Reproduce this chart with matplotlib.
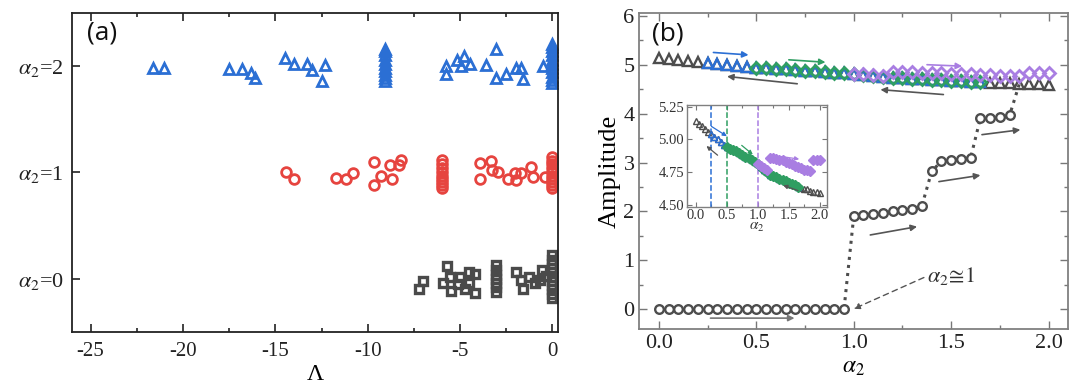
import matplotlib
matplotlib.use('Agg')
import matplotlib.pyplot as plt
from matplotlib.ticker import MultipleLocator

plt.rcParams['font.family'] = ['Liberation Serif', 'DejaVu Serif']
plt.rcParams['mathtext.fontset'] = 'stix'
plt.rcParams['axes.unicode_minus'] = False

# ---------------- Panel (a) data ----------------
tri_lam = [-21.6, -21.0, -17.5, -16.8, -16.3, -16.1, -14.5, -14.0, -13.3, -13.0, -12.5, -12.3,
           -9.04, -9.04, -9.04, -9.04, -9.04, -9.04, -9.04, -9.04, -9.04, -9.04,
           -5.78, -5.78, -5.17, -4.93, -4.81, -4.44, -3.58, -3.04, -3.04, -2.50, -1.96, -1.69, -1.60, -0.52,
           0.0, 0.0, 0.0, 0.0, 0.0, 0.0, 0.0, 0.0, 0.0, 0.0, 0.0]
tri_y = [1.984, 1.984, 1.972, 1.972, 1.937, 1.885, 2.072, 2.016, 2.016, 1.962, 1.859, 2.009,
         1.86, 1.89, 1.92, 1.95, 1.98, 2.02, 2.06, 2.10, 2.14, 2.16,
         2.0, 1.928, 2.054, 2.0, 2.094, 2.022, 2.007, 2.157, 1.885, 1.922, 1.984, 1.984, 1.875, 2.0,
         1.84, 1.87, 1.90, 1.94, 1.98, 2.02, 2.06, 2.10, 2.14, 2.18, 2.21]

circ_lam = [-14.4, -14.0, -11.7, -11.2, -10.8, -9.67, -9.3, -9.67, -8.8, -8.7, -8.3, -8.2,
            -6.0, -6.0, -6.0, -6.0, -6.0, -6.0, -6.0, -6.0, -6.0,
            -3.94, -3.94, -3.31, -3.26, -2.95, -2.41, -2.05, -1.96, -1.69, -1.15, -1.06, -0.43,
            0.0, 0.0, 0.0, 0.0, 0.0, 0.0, 0.0, 0.0, 0.0, 0.0]
circ_y = [1.0, 0.937, 0.944, 0.934, 0.991, 1.10, 0.968, 0.881, 1.075, 0.937, 1.069, 1.122,
          0.85, 0.88, 0.91, 0.94, 0.97, 1.0, 1.04, 1.08, 1.115,
          1.085, 0.934, 1.109, 1.028, 1.006, 0.934, 0.991, 0.928, 0.991, 1.053, 0.959, 0.959,
          0.85, 0.88, 0.91, 0.94, 0.97, 1.0, 1.04, 1.08, 1.11, 1.145]

sq_lam = [-7.2, -7.0, -5.7, -5.9, -5.56, -5.5, -5.1, -5.0, -4.75, -4.5, -4.2, -4.5, -4.2,
          -3.04, -3.04, -3.04, -3.04, -3.04, -3.04, -3.04,
          -1.96, -1.7, -1.57, -1.28, -0.97, -0.7, -0.56, -0.34,
          0.0, 0.0, 0.0, 0.0, 0.0, 0.0, 0.0, 0.0, 0.0, 0.0, 0.0]
sq_y = [-0.097, -0.022, 0.122, -0.04, 0.016, -0.119, -0.047, 0.016, -0.097, 0.069, 0.047, -0.035, -0.134,
        -0.12, -0.08, -0.04, 0.0, 0.04, 0.08, 0.13,
        0.069, -0.009, -0.097, 0.022, -0.04, -0.009, 0.085, 0.028,
        -0.18, -0.14, -0.10, -0.06, -0.02, 0.02, 0.06, 0.10, 0.14, 0.18, 0.225]

a_yticks = [0, 1, 2]
a_yticklabels = [r'$\alpha_2$=0', r'$\alpha_2$=1', r'$\alpha_2$=2']

# ---------------- Panel (b) data ----------------
black_alpha = [0.00, 0.05, 0.10, 0.15, 0.20, 0.25, 0.30, 0.35, 0.40, 0.45, 0.50, 0.55, 0.60, 0.65,
               0.70, 0.75, 0.80, 0.85, 0.90, 0.95, 1.00, 1.05, 1.10, 1.15, 1.20, 1.25, 1.30, 1.35,
               1.40, 1.45, 1.50, 1.55, 1.60, 1.65, 1.70, 1.75, 1.80, 1.85, 1.90, 1.95, 2.00]
black_amp = [5.14, 5.12, 5.10, 5.08, 5.06, 5.04, 5.02, 5.00, 4.98, 4.96, 4.94, 4.93, 4.92, 4.91,
             4.90, 4.88, 4.87, 4.86, 4.84, 4.83, 4.81, 4.79, 4.77, 4.75, 4.73, 4.72, 4.71, 4.70,
             4.69, 4.68, 4.67, 4.66, 4.65, 4.64, 4.63, 4.62, 4.62, 4.61, 4.60, 4.60, 4.59]

blue_alpha = [0.25, 0.30, 0.35, 0.40, 0.45, 0.50, 0.55, 0.60, 0.65, 0.70, 0.75, 0.80, 0.85, 0.90,
              0.95, 1.00, 1.05, 1.10, 1.15, 1.20, 1.25, 1.30, 1.35, 1.40, 1.45, 1.50, 1.55, 1.60, 1.65]
blue_amp = [5.04, 5.02, 5.00, 4.98, 4.96, 4.94, 4.93, 4.92, 4.91, 4.90, 4.88, 4.87, 4.86, 4.84,
            4.83, 4.81, 4.79, 4.77, 4.75, 4.73, 4.72, 4.71, 4.70, 4.69, 4.68, 4.67, 4.66, 4.65, 4.64]

green_alpha = [0.50, 0.55, 0.60, 0.65, 0.70, 0.75, 0.80, 0.85, 0.90, 0.95, 1.00, 1.05, 1.10, 1.15,
               1.20, 1.25, 1.30, 1.35, 1.40, 1.45, 1.50, 1.55, 1.60, 1.65]
green_amp = [4.94, 4.93, 4.92, 4.91, 4.90, 4.88, 4.87, 4.86, 4.84, 4.83, 4.81, 4.79, 4.77, 4.75,
             4.73, 4.72, 4.71, 4.70, 4.69, 4.68, 4.67, 4.66, 4.65, 4.64]

purple_alpha = [1.00, 1.05, 1.10, 1.15, 1.20, 1.25, 1.30, 1.35, 1.40, 1.45, 1.50, 1.55, 1.60, 1.65,
                1.70, 1.75, 1.80, 1.85, 1.90, 1.95, 2.00]
purple_amp = [4.81, 4.80, 4.78, 4.77, 4.86, 4.86, 4.85, 4.84, 4.84, 4.83, 4.82, 4.81, 4.80, 4.79,
              4.78, 4.77, 4.77, 4.76, 4.84, 4.84, 4.84]

zero_alpha = [0.00, 0.05, 0.10, 0.15, 0.20, 0.25, 0.30, 0.35, 0.40, 0.45, 0.50, 0.55, 0.60, 0.65,
              0.70, 0.75, 0.80, 0.85, 0.90, 0.95, 1.00, 1.05, 1.10, 1.15, 1.20, 1.25, 1.30, 1.35,
              1.40, 1.45, 1.50, 1.55, 1.60, 1.65, 1.70, 1.75, 1.80]
zero_amp = [0, 0, 0, 0, 0, 0, 0, 0, 0, 0, 0, 0, 0, 0, 0, 0, 0, 0, 0, 0,
            1.90, 1.93, 1.95, 1.97, 2.00, 2.02, 2.05, 2.12,
            2.82, 3.03, 3.05, 3.07, 3.10,
            3.91, 3.92, 3.94, 3.97]

c_blue = '#2b6fd4'
c_red = '#e6443f'
c_gray = '#4a4a4a'
c_green = '#2f9e62'
c_purple = '#a97ee2'
c_dark = '#4d4d4d'

fig = plt.figure(figsize=(10.8, 3.92), dpi=100)

# ================= Panel (a) =================
axa = fig.add_axes([0.0667, 0.153, 0.45, 0.814])
axa.plot(tri_lam, tri_y, ls='none', marker='^', ms=7.5, mfc='none', mec=c_blue, mew=2.0)
axa.plot(circ_lam, circ_y, ls='none', marker='o', ms=7, mfc='none', mec=c_red, mew=2.0)
axa.plot(sq_lam, sq_y, ls='none', marker='s', ms=5.2, mfc='none', mec=c_gray, mew=2.4)
axa.set_xlim(-26, 0.3)
axa.set_ylim(-0.5, 2.5)
axa.xaxis.set_major_locator(MultipleLocator(5))
axa.xaxis.set_minor_locator(MultipleLocator(2.5))
axa.set_yticks(a_yticks)
axa.set_yticklabels(a_yticklabels)
axa.tick_params(which='both', direction='in', top=True, right=False, width=1.2, colors='#222222')
axa.tick_params(which='major', length=6, labelsize=15)
axa.tick_params(which='minor', length=3)
axa.tick_params(axis='x', pad=7)
axa.tick_params(axis='y', labelsize=16, pad=6)
for s in axa.spines.values():
    s.set_linewidth(1.3)
    s.set_color('#222222')
axa.set_xlabel('Λ', fontsize=17)
axa.xaxis.set_label_coords(0.5, -0.1)
axa.xaxis.label.set_va('top')
axa.text(0.03, 0.975, '(a)', transform=axa.transAxes, fontsize=19,
         family=['Open Sans', 'DejaVu Sans'], va='top', ha='left', color='#111111')

# ================= Panel (b) =================
axb = fig.add_axes([0.592, 0.161, 0.397, 0.805])
axb.plot(black_alpha, black_amp, ls='none', marker='^', ms=7.5, mfc='none', mec=c_dark, mew=1.7)
axb.plot(blue_alpha, blue_amp, ls='none', marker='^', ms=7.5, mfc='none', mec=c_blue, mew=1.7)
axb.plot(green_alpha, green_amp, ls='none', marker='D', ms=6, mfc='none', mec=c_green, mew=2.0)
axb.plot(purple_alpha, purple_amp, ls='none', marker='D', ms=6, mfc='none', mec=c_purple, mew=2.0)
axb.plot(zero_alpha + [black_alpha[37]], zero_amp + [black_amp[37]], ls=':', lw=2.2, color=c_dark)
axb.plot(zero_alpha, zero_amp, ls='none', marker='o', ms=6.2, mfc='white', mec=c_dark, mew=1.7)

axb.set_xlim(-0.1, 2.1)
axb.set_ylim(-0.4, 6.05)
axb.xaxis.set_major_locator(MultipleLocator(0.5))
axb.xaxis.set_minor_locator(MultipleLocator(0.25))
axb.yaxis.set_major_locator(MultipleLocator(1))
axb.yaxis.set_minor_locator(MultipleLocator(0.5))
axb.tick_params(which='both', direction='in', top=True, right=True, width=1.0, colors='#777777',
                labelcolor='#222222')
axb.tick_params(which='major', length=6, labelsize=16)
axb.tick_params(which='minor', length=3)
for s in axb.spines.values():
    s.set_linewidth(1.3)
    s.set_color('#808080')
axb.set_xlabel(r'$\alpha_2$', fontsize=17, labelpad=3)
axb.set_ylabel('Amplitude', fontsize=19, labelpad=2)
axb.text(0.03, 0.975, '(b)', transform=axb.transAxes, fontsize=19,
         family=['Open Sans', 'DejaVu Sans'], va='top', ha='left', color='#111111')

def arr(ax, x0, y0, x1, y1, c, lw=1.2, ms=9, style='-|>', ls='-'):
    ax.annotate('', xy=(x1, y1), xytext=(x0, y0),
                arrowprops=dict(arrowstyle=style, color=c, lw=lw, mutation_scale=ms, linestyle=ls,
                                shrinkA=0, shrinkB=0))

arr(axb, 0.28, 5.25, 0.46, 5.20, c_blue)
arr(axb, 0.667, 5.10, 0.855, 5.05, c_green)
arr(axb, 1.376, 5.00, 1.556, 4.97, c_purple)
arr(axb, 0.71, 4.61, 0.35, 4.76, '#555555')
arr(axb, 1.46, 4.39, 1.137, 4.49, '#555555')
arr(axb, 0.265, -0.18, 0.696, -0.18, '#777777')
arr(axb, 1.085, 1.52, 1.325, 1.69, '#555555')
arr(axb, 1.437, 2.61, 1.65, 2.74, '#555555')
arr(axb, 1.658, 3.57, 1.855, 3.67, '#555555')
axb.annotate('', xy=(1.0, 0.01), xytext=(1.36, 0.65),
             arrowprops=dict(arrowstyle='-|>', color='#555555', lw=1.0, linestyle=(0, (4, 3)),
                             mutation_scale=9, shrinkA=0, shrinkB=0))
axb.text(1.375, 0.68, r'$\alpha_2\!\cong\!1$', fontsize=16, color='#333333', va='center', ha='left')

# ================= Inset =================
axi = fig.add_axes([0.6358, 0.4727, 0.130, 0.2594])
axi.axvline(0.25, color=c_blue, ls='--', lw=1.1)
axi.axvline(0.5, color=c_green, ls='--', lw=1.1)
axi.axvline(1.0, color=c_purple, ls='--', lw=1.1)
axi.plot(black_alpha, black_amp, ls='none', marker='^', ms=3.8, mfc='none', mec=c_dark, mew=1.0)
axi.plot(blue_alpha, blue_amp, ls='none', marker='^', ms=3.8, mfc='none', mec=c_blue, mew=1.0)
axi.plot(green_alpha, green_amp, ls='none', marker='D', ms=5.2, mfc=c_green, mec=c_green, mew=1.0)
axi.plot(purple_alpha, purple_amp, ls='none', marker='D', ms=5.2, mfc=c_purple, mec=c_purple, mew=1.0)
axi.set_xlim(-0.15, 2.12)
axi.set_ylim(4.487, 5.263)
axi.set_xticks([0.0, 0.5, 1.0, 1.5, 2.0])
axi.set_xticklabels(['0.0', '0.5', '1.0', '1.5', '2.0'])
axi.set_yticks([4.50, 4.75, 5.00, 5.25])
axi.set_yticklabels(['4.50', '4.75', '5.00', '5.25'])
axi.xaxis.set_minor_locator(MultipleLocator(0.25))
axi.tick_params(which='both', direction='in', top=True, right=True, width=0.8, colors='#777777',
                labelcolor='#333333', labelsize=10.5, pad=2)
axi.tick_params(which='major', length=3.5)
axi.tick_params(which='minor', length=2)
for s in axi.spines.values():
    s.set_linewidth(1.0)
    s.set_color('#808080')
axi.set_xlabel(r'$\alpha_2$', fontsize=11, labelpad=-1, color='#333333')
arr(axi, 0.25, 5.10, 0.50, 5.025, c_blue, lw=0.9, ms=6)
arr(axi, 0.35, 4.88, 0.17, 4.95, '#555555', lw=0.9, ms=6)
arr(axi, 0.74, 4.955, 0.92, 4.885, c_green, lw=0.9, ms=6)
arr(axi, 1.38, 4.87, 1.67, 4.85, c_purple, lw=0.9, ms=6)
arr(axi, 1.65, 4.61, 1.41, 4.65, '#555555', lw=0.9, ms=6)

fig.savefig('out.png', dpi=100)
